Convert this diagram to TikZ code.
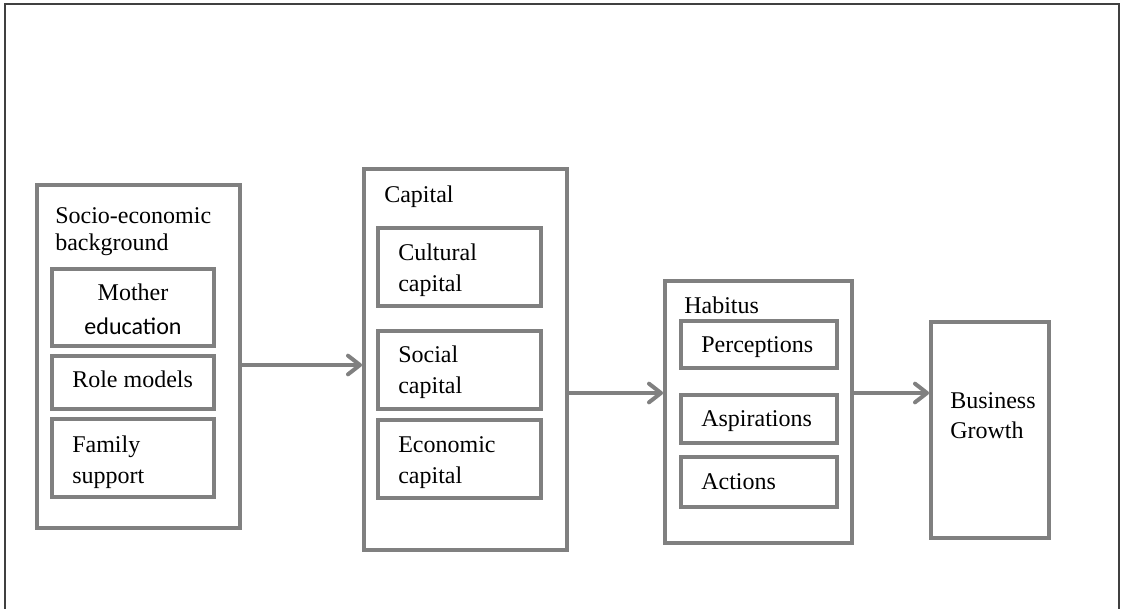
\documentclass[tikz,border=0pt]{standalone}
\usepackage{fontspec}
\setmainfont{Liberation Serif}
\newfontfamily\calibri{Carlito}
\usepackage{tikz}
\usetikzlibrary{arrows.meta}
\usetikzlibrary{fit,positioning}
\tikzset{font={\fontsize{18pt}{23pt}\selectfont}}
\definecolor{boxgray}{HTML}{808080}
\definecolor{framegray}{HTML}{404040}

\begin{document}
\begin{tikzpicture}[x=0.75pt,y=-0.75pt,
box/.style={draw=boxgray,line width=3pt,inner sep=0pt},
txt/.style={anchor=base west,align=left,inner sep=0pt},
conn/.style={draw=boxgray,line width=3pt,-{Straight Barb[length=9pt,width=14pt,line cap=round,line join=round]}}
]
\useasboundingbox (0,0) rectangle (1122,608);
\draw[framegray,line width=1.5pt] (5,640) -- (5,4) -- (1119,4) -- (1119,640);

%socio-economic background
\node[box,fit={(37,185) (240,528)}] (seb) {};
\node[txt] (sebt) at (55,250) {Socio-economic\\[-3pt]background};
\node[box,fit={(52,269) (214,346)}] (mot) {};
\node[anchor=base,align=center,inner sep=0pt] (mott) at (133,334) {Mother\\[2pt]{\calibri education}};
\node[box,fit={(52,356) (214,409)}] (rol) {};
\node[txt] (rolt) at (72,387) {Role models};
\node[box,fit={(52,419) (214,497)}] (fam) {};
\node[txt] (famt) at (72,483) {Family\\support};

%capital
\node[box,fit={(364,169) (567,550)}] (cap) {};
\node[txt] (capt) at (384,202) {Capital};
\node[box,fit={(378,228) (541,306)}] (cul) {};
\node[txt] (cult) at (398,291) {Cultural\\capital};
\node[box,fit={(378,331) (541,409)}] (soc) {};
\node[txt] (soct) at (398,393) {Social\\capital};
\node[box,fit={(378,420) (541,498)}] (eco) {};
\node[txt] (ecot) at (398,483) {Economic\\capital};

%habitus
\node[box,fit={(665,281) (852,543)}] (hab) {};
\node[txt] (habt) at (684,313) {Habitus};
\node[box,fit={(681,321) (837,368)}] (per) {};
\node[txt] (pert) at (701,352) {Perceptions};
\node[box,fit={(681,395) (837,443)}] (asp) {};
\node[txt] (aspt) at (701,426) {Aspirations};
\node[box,fit={(681,457) (837,507)}] (act) {};
\node[txt] (actt) at (701,489) {Actions};

%business growth
\node[box,fit={(931,322) (1049,538)}] (bgr) {};
\node[txt] (bgrt) at (950,438) {Business\\[-1pt]Growth};

%arrows
\draw[conn] (seb.east |- 0,365) -- (cap.west |- 0,365);
\draw[conn] (cap.east |- 0,393) -- (hab.west |- 0,393);
\draw[conn] (hab.east |- 0,393) -- (bgr.west |- 0,393);

\end{tikzpicture}
\end{document}
